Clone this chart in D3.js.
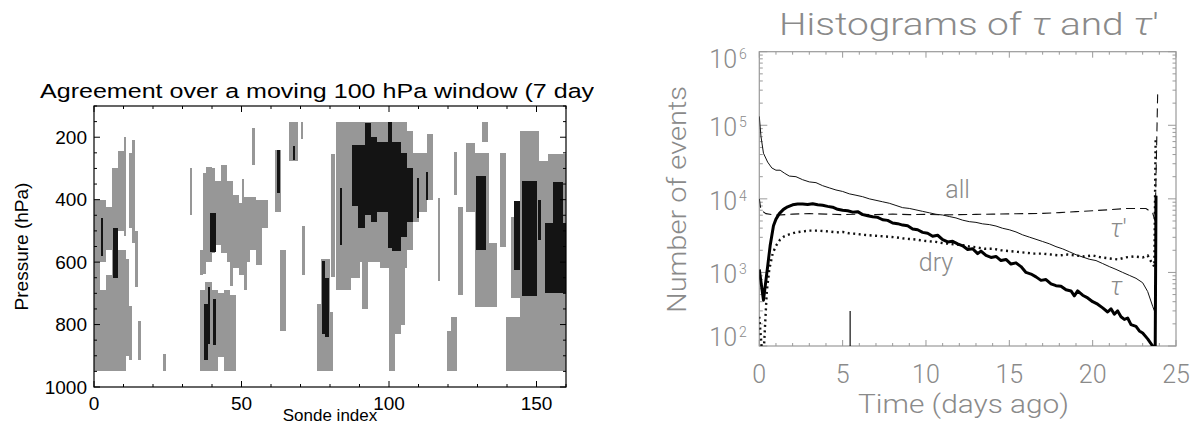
<!DOCTYPE html>
<html>
<head>
<meta charset="utf-8">
<script src="https://cdn.jsdelivr.net/npm/d3@7"></script>
<style>
body { margin: 0; background: #fff; }
svg { display: block; }
.lab { font-family: "Liberation Sans", Arial, sans-serif; fill: #000; }
.her { font-family: "Roboto", "DejaVu Sans", sans-serif; font-weight: 300; fill: #8a8a8a; }
</style>
</head>
<body>
<svg id="chart" width="1191" height="425"></svg>
<script>
// ---- left panel: agreement over a moving window ----
let sondeTicks = [0, 50, 100, 150];
let pressureTicks = [200, 400, 600, 800, 1000];
// [first sonde, last sonde, top hPa, bottom hPa]
let grayCells = [
  [0, 4, 400, 600], [0, 2, 600, 950], [2, 4, 690, 950], [4, 6, 425, 560], [4, 6, 640, 950],
  [6, 8, 300, 950], [8, 10, 245, 500], [8, 11, 560, 950], [10, 11, 200, 515], [11, 12, 590, 900],
  [12, 13, 740, 915], [12, 13, 250, 490], [13, 14, 210, 540], [14, 15, 500, 680], [15, 16, 790, 915],
  [23.5, 24.3, 895, 950], [32.5, 33.3, 300, 450],
  [36, 37, 560, 640], [37, 38, 316, 637], [38, 40, 295, 600], [40, 41, 300, 570], [41, 43, 340, 545],
  [43, 45, 290, 570], [45, 47, 340, 600], [46, 47, 600, 675], [47, 49, 385, 620], [49, 51, 410, 640],
  [50, 51, 335, 410], [51, 53, 390, 600], [51, 52, 600, 690], [53.5, 54.5, 172, 290], [53, 55, 390, 560],
  [55, 57, 400, 610], [57, 59, 400, 490], [61.5, 63.5, 240, 440], [66, 69, 150, 275], [70, 71, 150, 207],
  [63, 65, 560, 820], [70.5, 71.5, 485, 640],
  [36, 37.5, 690, 950], [37.5, 40, 665, 950], [40, 42, 690, 950], [42, 44, 700, 905], [44, 46, 690, 950],
  [46, 48, 705, 950],
  [75.5, 77, 735, 950], [77, 80, 590, 950], [80, 81, 760, 950], [80.5, 81.8, 253, 648], [82, 84, 150, 690],
  [84, 87, 150, 690], [87, 90, 150, 650], [90, 91, 150, 600], [91, 93, 150, 750], [93, 97, 150, 600],
  [97, 100, 150, 620], [100, 102, 150, 950], [102, 104, 150, 830], [104, 106, 150, 620], [104, 105.5, 600, 800],
  [106, 108, 180, 560], [108, 110, 250, 470], [110, 113, 250, 440], [113, 115, 190, 400],
  [116.5, 117.3, 395, 660], [119.5, 121, 820, 950], [121, 123, 775, 950], [122, 123, 246, 385],
  [123.5, 125, 425, 705], [126, 129, 220, 440], [129, 134, 250, 745], [131.5, 133.5, 150, 215],
  [133.5, 136.5, 540, 745], [137.5, 139.5, 252, 552], [139.5, 145.5, 775, 950], [141.5, 144.5, 455, 715],
  [144.5, 151, 180, 950], [151, 154, 275, 950], [154, 160, 255, 950]
];
let blackCells = [
  [2.5, 3.2, 460, 580], [6.5, 8, 490, 650], [37.3, 38.7, 735, 915], [38.5, 39.3, 680, 862],
  [40.4, 41.3, 717, 867], [39.2, 41.3, 442, 568], [62, 63, 241, 380], [67.5, 68.3, 228, 272],
  [77.3, 78.3, 595, 830], [78.3, 79.7, 650, 840], [83.3, 84.2, 362, 546],
  [87.5, 89.5, 225, 420], [89.5, 92, 225, 490], [92, 94, 155, 450], [94, 96, 200, 470],
  [96, 99.5, 215, 440], [99.5, 101, 152, 555], [101, 104, 215, 565], [104, 106, 250, 520],
  [106, 108, 300, 470], [109.5, 110.3, 330, 460], [112.5, 113.2, 310, 400],
  [129.5, 133, 325, 560], [142.5, 144.5, 405, 625], [145, 150, 340, 710], [150.5, 151.5, 400, 530],
  [155.5, 159, 345, 475], [153, 160, 475, 700]
];

// ---- right panel: histograms of tau and tau' ----
let dayTicks = [0, 5, 10, 15, 20, 25];
let decades = [2, 3, 4, 5, 6];
let allDays = [0, 0.1, 0.25, 0.5, 0.75, 1.0, 1.25, 1.5, 1.8, 2.2, 2.6, 3.0, 3.4, 3.8, 4.2, 4.6, 5.0, 5.4, 5.8,
  6.2, 6.6, 7.0, 7.4, 7.8, 8.2, 8.6, 9.0, 9.4, 9.8, 10.2, 10.6, 11.0, 11.4, 11.8, 12.2, 12.6, 13.0, 13.4,
  13.8, 14.2, 14.6, 15.0, 15.4, 15.8, 16.2, 16.6, 17.0, 17.4, 17.8, 18.2, 18.6, 19.0, 19.4, 19.8, 20.2,
  20.6, 21.0, 21.4, 21.8, 22.2, 22.6, 23.0, 23.3, 23.6, 23.75];
let allCounts = [132000, 70800, 41700, 31600, 26300, 24500, 24500, 22400, 20400, 20000, 18200, 17000, 16600,
  15100, 14100, 13200, 12600, 11700, 11200, 10700, 10000, 9550, 9120, 8710, 8130, 7590, 7410, 7080, 6760,
  6460, 6170, 6030, 5750, 5500, 5130, 4900, 4790, 4570, 4470, 4270, 3980, 3800, 3550, 3240, 3020, 2820,
  2630, 2450, 2240, 2090, 1910, 1740, 1620, 1510, 1450, 1320, 1200, 1100, 1000, 912, 832, 724, 550, 347, 282];
let dryDays = [0, 0.25, 0.5, 0.65, 0.85, 1.0, 1.2, 1.45, 1.7, 2.0, 2.3, 2.6, 2.9, 3.2, 3.5, 3.8, 4.1, 4.4,
  4.7, 5.0, 5.3, 5.6, 5.9, 6.2, 6.5, 6.8, 7.1, 7.4, 7.7, 8.0, 8.3, 8.6, 8.9, 9.2, 9.5, 9.8, 10.1, 10.4,
  10.7, 11.0, 11.3, 11.6, 11.9, 12.2, 12.5, 12.8, 13.1, 13.3, 13.6, 13.9, 14.2, 14.5, 14.8, 15.1, 15.4,
  15.7, 16.0, 16.3, 16.6, 16.9, 17.2, 17.5, 17.8, 18.1, 18.4, 18.7, 18.9, 19.1, 19.4, 19.7, 20.0, 20.3,
  20.6, 20.9, 21.1, 21.3, 21.5, 21.7, 21.9, 22.1, 22.3, 22.6, 22.8, 23.0, 23.3, 23.6, 23.75, 23.8];
let dryCounts = [1100, 420, 1200, 2300, 4300, 5300, 6300, 7200, 7800, 8300, 8500, 8500, 8400, 8600, 8300,
  8200, 7900, 7700, 7200, 7000, 6900, 6600, 6700, 6100, 5900, 5700, 5600, 5200, 5100, 4700, 4600, 4400,
  4300, 3900, 3800, 3500, 3400, 3100, 3200, 2800, 2600, 2650, 2450, 2300, 2050, 2100, 1800, 1950, 1700,
  1600, 1650, 1450, 1500, 1300, 1350, 1200, 1000, 950, 870, 780, 800, 700, 660, 650, 580, 560, 480, 560,
  490, 450, 400, 370, 330, 290, 320, 270, 300, 250, 230, 240, 195, 185, 160, 150, 125, 100, 70, 11000];
let tauDays = [0, 0.15, 0.25, 0.35, 0.45, 0.6, 0.8, 1.0, 1.25, 1.5, 1.8, 2.2, 2.6, 3.0, 3.4, 3.8, 4.2, 4.6,
  5.0, 5.4, 5.8, 6.2, 6.6, 7.0, 7.4, 7.8, 8.2, 8.6, 9.0, 9.4, 9.8, 10.2, 10.6, 11.0, 11.4, 11.8, 12.2,
  12.6, 13.0, 13.5, 14.0, 14.5, 15.0, 15.5, 16.0, 16.5, 17.0, 17.5, 18.0, 18.5, 19.0, 19.5, 20.0, 20.5,
  21.0, 21.5, 22.0, 22.5, 23.0, 23.3, 23.55, 23.7, 23.78];
let tauCounts = [250, 90, 70, 200, 550, 1100, 1800, 2300, 2800, 3100, 3300, 3500, 3600, 3700, 3700, 3650,
  3600, 3500, 3550, 3400, 3350, 3250, 3200, 3150, 3100, 3050, 3000, 2900, 2850, 2800, 2700, 2650, 2600,
  2500, 2450, 2400, 2350, 2250, 2200, 2100, 2100, 2000, 1950, 1900, 1850, 1800, 1800, 1750, 1700, 1750,
  1700, 1650, 1700, 1600, 1550, 1500, 1600, 1650, 1600, 1700, 1350, 1200, 70000];
let tauPDays = [0, 0.1, 0.4, 1, 2, 3, 4, 5, 6, 7, 8, 9, 10, 11, 12, 13, 14, 15, 16, 17, 18, 19, 20, 21, 22,
  23.2, 23.6, 23.75, 23.9];
let tauPCounts = [10000, 7000, 6300, 6000, 6200, 6300, 6200, 6100, 6200, 6100, 6200, 6100, 6150, 6050, 6100,
  6150, 6200, 6250, 6300, 6350, 6500, 6700, 6900, 7100, 7400, 7400, 6400, 5000, 270000];
let markerDay = 5.45, markerTop = 300;
let curveLabels = [
  { text: "all", day: 11.9, count: 10300 },
  { text: "dry", day: 10.6, count: 1050 }
];

let svg = d3.select("#chart");
let defs = svg.append("defs");

// ---------- left panel ----------
let L = { x0: 94, x1: 566, y0: 106, y1: 387 };
let xS = d3.scaleLinear().domain([0, 160]).range([L.x0, L.x1]);
let yP = d3.scaleLinear().domain([100, 1000]).range([L.y0, L.y1]);

defs.append("clipPath").attr("id", "leftClip")
  .append("rect").attr("x", 0).attr("y", 0).attr("width", 594).attr("height", 425);
defs.append("clipPath").attr("id", "leftPlot")
  .append("rect").attr("x", L.x0).attr("y", L.y0).attr("width", L.x1 - L.x0).attr("height", L.y1 - L.y0);

let g1 = svg.append("g").attr("clip-path", "url(#leftClip)");
let cells = g1.append("g").attr("clip-path", "url(#leftPlot)").attr("shape-rendering", "crispEdges");

cells.selectAll("rect.gray").data(grayCells).enter().append("rect")
  .attr("class", "gray")
  .attr("x", d => xS(d[0]))
  .attr("width", d => xS(d[1]) - xS(d[0]))
  .attr("y", d => yP(d[2]))
  .attr("height", d => yP(d[3]) - yP(d[2]))
  .style("fill", "#979797");
cells.selectAll("rect.black").data(blackCells).enter().append("rect")
  .attr("class", "black")
  .attr("x", d => xS(d[0]))
  .attr("width", d => xS(d[1]) - xS(d[0]))
  .attr("y", d => yP(d[2]))
  .attr("height", d => yP(d[3]) - yP(d[2]))
  .style("fill", "#141414");

// ticks, inward on all four sides
let xMinor = d3.range(0, 161, 10);
let yMinor = d3.range(100, 1001, 50);
let tk = g1.append("g").style("stroke", "#000").style("stroke-width", 1);
xMinor.forEach(v => {
  let len = sondeTicks.includes(v) ? 6 : 3;
  tk.append("line").attr("x1", xS(v)).attr("x2", xS(v)).attr("y1", L.y1).attr("y2", L.y1 - len);
  tk.append("line").attr("x1", xS(v)).attr("x2", xS(v)).attr("y1", L.y0).attr("y2", L.y0 + len);
});
yMinor.forEach(v => {
  let len = pressureTicks.includes(v) ? 6 : 3;
  tk.append("line").attr("y1", yP(v)).attr("y2", yP(v)).attr("x1", L.x0).attr("x2", L.x0 + len);
  tk.append("line").attr("y1", yP(v)).attr("y2", yP(v)).attr("x1", L.x1).attr("x2", L.x1 - len);
});
g1.append("rect")
  .attr("x", L.x0).attr("y", L.y0).attr("width", L.x1 - L.x0).attr("height", L.y1 - L.y0)
  .style("fill", "none").style("stroke", "#000").style("stroke-width", 1.2);

g1.selectAll("text.xl").data(sondeTicks).enter().append("text")
  .attr("class", "lab").attr("x", d => xS(d)).attr("y", 409.5)
  .style("font-size", "19px").style("text-anchor", "middle").text(d => d);
g1.selectAll("text.yl").data(pressureTicks).enter().append("text")
  .attr("class", "lab").attr("x", 87).attr("y", d => yP(d) + 6.8)
  .style("font-size", "19px").style("text-anchor", "end").text(d => d);

g1.append("text").attr("class", "lab")
  .attr("x", 40).attr("y", 98)
  .attr("textLength", 575).attr("lengthAdjust", "spacingAndGlyphs")
  .style("font-size", "20.5px")
  .text("Agreement over a moving 100 hPa window (7 days)");
g1.append("text").attr("class", "lab")
  .attr("transform", "translate(28," + ((L.y0 + L.y1) / 2) + ") rotate(-90)")
  .style("font-size", "19px").style("text-anchor", "middle")
  .text("Pressure (hPa)");
g1.append("text").attr("class", "lab")
  .attr("x", (L.x0 + L.x1) / 2).attr("y", 421)
  .style("font-size", "17px").style("text-anchor", "middle")
  .text("Sonde index");

// ---------- right panel ----------
let R = { x0: 759.3, x1: 1176, y0: 51.7, y1: 346 };
let xD = d3.scaleLinear().domain([0, 25]).range([R.x0, R.x1]);
let yN = d3.scaleLog().domain([1e2, 1e6]).range([R.y1, R.y0]);

defs.append("clipPath").attr("id", "rightPlot")
  .append("rect").attr("x", R.x0).attr("y", R.y0).attr("width", R.x1 - R.x0).attr("height", R.y1 - R.y0);

let g2 = svg.append("g");
let tk2 = g2.append("g").style("stroke", "#9a9a9a").style("stroke-width", 1);
d3.range(0, 26, 1).forEach(v => {
  let len = dayTicks.includes(v) ? 6 : 3;
  tk2.append("line").attr("x1", xD(v)).attr("x2", xD(v)).attr("y1", R.y1).attr("y2", R.y1 - len);
  tk2.append("line").attr("x1", xD(v)).attr("x2", xD(v)).attr("y1", R.y0).attr("y2", R.y0 + len);
});
yN.ticks().forEach(v => {
  let major = Math.abs(Math.log10(v) - Math.round(Math.log10(v))) < 1e-9;
  let len = major ? 8 : 3.5;
  tk2.append("line").attr("y1", yN(v)).attr("y2", yN(v)).attr("x1", R.x0).attr("x2", R.x0 + len);
  tk2.append("line").attr("y1", yN(v)).attr("y2", yN(v)).attr("x1", R.x1).attr("x2", R.x1 - len);
});
g2.append("rect")
  .attr("x", R.x0).attr("y", R.y0).attr("width", R.x1 - R.x0).attr("height", R.y1 - R.y0)
  .style("fill", "none").style("stroke", "#9a9a9a").style("stroke-width", 1.2);

let plot = g2.append("g").attr("clip-path", "url(#rightPlot)");
let line = d3.line().x(d => xD(d[0])).y(d => yN(d[1]));

plot.append("path").datum(d3.zip(tauPDays, tauPCounts)).attr("d", line)
  .style("fill", "none").style("stroke", "#111").style("stroke-width", 1.1)
  .style("stroke-dasharray", "9,5");
plot.append("path").datum(d3.zip(tauDays, tauCounts)).attr("d", line)
  .style("fill", "none").style("stroke", "#111").style("stroke-width", 2.4)
  .style("stroke-dasharray", "2,3.5");
plot.append("path").datum(d3.zip(allDays, allCounts)).attr("d", line)
  .style("fill", "none").style("stroke", "#111").style("stroke-width", 1);
plot.append("path").datum(d3.zip(dryDays, dryCounts)).attr("d", line)
  .style("fill", "none").style("stroke", "#000").style("stroke-width", 3)
  .style("stroke-linejoin", "round");
plot.append("line")
  .attr("x1", xD(markerDay)).attr("x2", xD(markerDay))
  .attr("y1", yN(1e2)).attr("y2", yN(markerTop))
  .style("stroke", "#111").style("stroke-width", 1.2);

// labels
g2.selectAll("text.xt").data(dayTicks).enter().append("text")
  .attr("class", "her").attr("x", d => xD(d)).attr("y", 383)
  .style("font-size", "25px").style("text-anchor", "middle").text(d => d);
decades.forEach(e => {
  let yb = Math.max(68, Math.min(346, yN(Math.pow(10, e)) + 11));
  g2.append("text").attr("class", "her").attr("x", 737).attr("y", yb)
    .style("font-size", "25px").style("text-anchor", "end").text("10");
  g2.append("text").attr("class", "her").attr("x", 739).attr("y", yb - 9)
    .style("font-size", "14px").text(e);
});

g2.append("text").attr("class", "her")
  .attr("x", 779).attr("y", 35)
  .attr("textLength", 380).attr("lengthAdjust", "spacingAndGlyphs")
  .style("font-size", "32px")
  .html("Histograms of <tspan font-style='italic'>τ</tspan> and <tspan font-style='italic'>τ</tspan>'");
g2.append("text").attr("class", "her")
  .attr("x", 858).attr("y", 413)
  .attr("textLength", 211).attr("lengthAdjust", "spacingAndGlyphs")
  .style("font-size", "25px")
  .text("Time (days ago)");
g2.append("text").attr("class", "her")
  .attr("transform", "translate(686,200) rotate(-90)")
  .attr("x", -113).attr("y", 0)
  .attr("textLength", 227).attr("lengthAdjust", "spacingAndGlyphs")
  .style("font-size", "25px")
  .text("Number of events");

g2.selectAll("text.cl").data(curveLabels).enter().append("text")
  .attr("class", "her")
  .attr("x", d => xD(d.day)).attr("y", d => yN(d.count))
  .style("font-size", "25px").style("text-anchor", "middle")
  .text(d => d.text);
g2.append("text").attr("class", "her")
  .attr("x", 1110).attr("y", 237).style("font-size", "25px")
  .html("<tspan font-style='italic'>τ</tspan>'");
g2.append("text").attr("class", "her")
  .attr("x", 1110).attr("y", 295).style("font-size", "25px").style("font-style", "italic")
  .text("τ");
</script>
</body>
</html>
